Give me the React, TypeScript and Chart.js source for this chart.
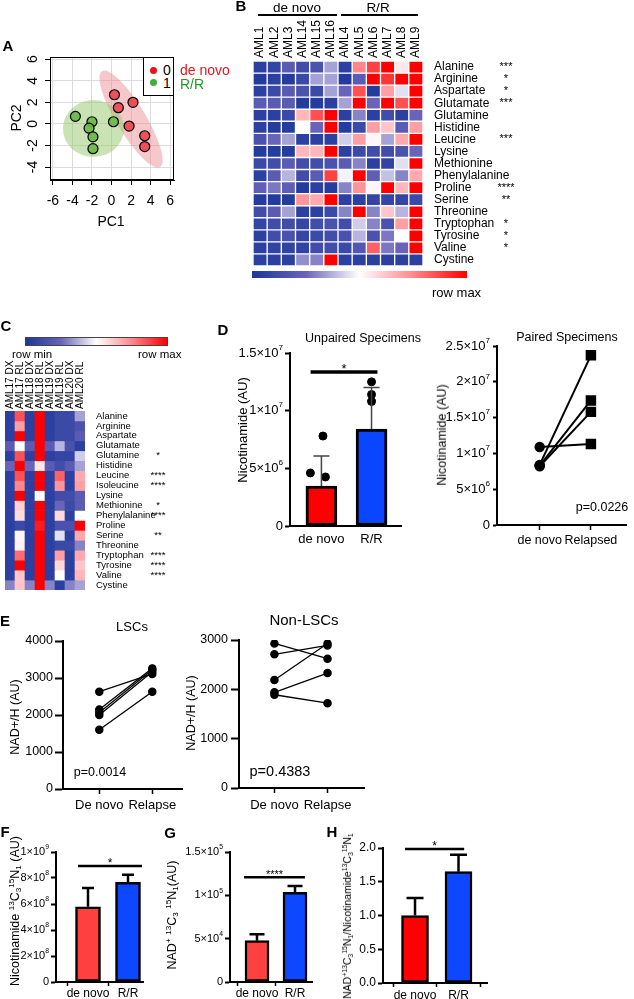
import React, { useEffect, useRef } from "react";
import { Chart, registerables } from "chart.js";

Chart.register(...registerables);
const FONT = "'Liberation Sans', Arial, Helvetica, sans-serif";
Chart.defaults.font.family = FONT;
Chart.defaults.color = "#000";

// ================= DATA =================
// Panel A – PCA
const PCA_X_TICKS = [-6, -4, -2, 0, 2, 4, 6];
const PCA_Y_TICKS = [-4, -2, 0, 2, 4, 6];
const PCA_DENOVO_PC1 = [0.3, 2.2, 0.7, 1.8, 3.4, 3.4];
const PCA_DENOVO_PC2 = [2.7, 2.0, 1.5, -0.2, -1.1, -2.1];
const PCA_RR_PC1 = [-3.7, -2.0, -2.3, -1.9, -1.9, 0.2];
const PCA_RR_PC2 = [0.7, 0.2, -0.4, -1.2, -2.3, 0.2];
// ellipse: centre x, centre y, end of major semi-axis x, y, minor/major ratio
const ELLIPSE_DENOVO = [2.0, 0.45, 4.97, -3.99, 0.26];
const ELLIPSE_RR = [-1.85, -0.43, 1.28, -0.43, 0.93];

// Panel B – heatmap (row-scaled, 0 = row min, 1 = row max)
const B_COLS = ["AML1", "AML2", "AML3", "AML14", "AML15", "AML16", "AML4", "AML5", "AML6", "AML7", "AML8", "AML9"];
const B_ROWS = ["Alanine", "Arginine", "Aspartate", "Glutamate", "Glutamine", "Histidine", "Leucine", "Lysine", "Methionine", "Phenylalanine", "Proline", "Serine", "Threonine", "Tryptophan", "Tyrosine", "Valine", "Cystine"];
const B_STARS = ["***", "*", "*", "***", "", "", "***", "", "", "", "****", "**", "", "*", "*", "*", ""];
const B_VALUES = [
  [0.05, 0.08, 0.2, 0.12, 0.15, 0.35, 0.05, 0.75, 0.88, 1.0, 0.55, 1.0],
  [0.02, 0.05, 0.03, 0.1, 0.35, 0.35, 0.02, 0.2, 1.0, 0.9, 1.0, 1.0],
  [0.05, 0.1, 0.2, 0.15, 0.1, 0.35, 0.25, 0.85, 0.03, 0.7, 0.45, 1.0],
  [0.2, 0.2, 0.2, 0.02, 0.03, 0.05, 0.35, 1.0, 0.25, 1.0, 0.85, 1.0],
  [0.05, 0.05, 0.1, 0.65, 0.85, 1.0, 0.05, 0.3, 0.05, 0.12, 0.05, 0.25],
  [0.05, 0.03, 0.03, 0.5, 0.25, 1.0, 0.03, 0.1, 0.7, 0.62, 0.2, 0.7],
  [0.15, 0.25, 0.35, 0.05, 0.05, 0.05, 0.42, 0.7, 0.52, 0.35, 0.68, 1.0],
  [0.03, 0.03, 0.03, 0.65, 0.65, 1.0, 0.05, 0.1, 0.12, 0.12, 0.15, 0.25],
  [0.1, 0.12, 0.2, 0.12, 0.12, 0.15, 0.2, 0.3, 0.05, 0.07, 0.45, 1.0],
  [0.05, 0.2, 0.38, 0.12, 0.2, 0.88, 0.48, 1.0, 0.22, 0.4, 0.3, 0.68],
  [0.22, 0.28, 0.22, 0.03, 0.05, 0.03, 0.3, 0.72, 0.52, 1.0, 0.65, 1.0],
  [0.03, 0.03, 0.03, 0.72, 0.68, 1.0, 0.05, 0.05, 0.08, 0.08, 0.08, 0.1],
  [0.12, 0.2, 0.35, 0.05, 0.05, 0.1, 0.3, 1.0, 0.3, 0.62, 0.38, 1.0],
  [0.08, 0.12, 0.12, 0.08, 0.12, 0.15, 0.12, 0.42, 0.3, 0.15, 0.7, 1.0],
  [0.05, 0.12, 0.15, 0.08, 0.1, 0.12, 0.15, 0.38, 0.15, 0.28, 0.5, 1.0],
  [0.05, 0.07, 0.07, 0.07, 0.12, 0.12, 0.1, 0.18, 0.82, 0.28, 0.25, 1.0],
  [0.05, 0.05, 0.05, 0.32, 0.3, 1.0, 0.05, 0.05, 0.05, 0.05, 0.05, 0.05],
];

// Panel C – paired heatmap
const C_COLS = ["AML17 DX", "AML17 RL", "AML18 DX", "AML18 RL", "AML19 DX", "AML19 RL", "AML20 DX", "AML20 RL"];
const C_ROWS = ["Alanine", "Arginine", "Aspartate", "Glutamate", "Glutamine", "Histidine", "Leucine", "Isoleucine", "Lysine", "Methionine", "Phenylalanine", "Proline", "Serine", "Threonine", "Tryptophan", "Tyrosine", "Valine", "Cystine"];
const C_STARS = ["", "", "", "", "*", "", "****", "****", "", "*", "****", "", "**", "", "****", "****", "****", ""];
const C_VALUES = [
  [0.05, 0.85, 0.05, 1.0, 0.05, 0.1, 0.1, 0.35],
  [0.05, 0.7, 0.05, 1.0, 0.05, 0.1, 0.1, 0.15],
  [0.05, 1.0, 0.05, 1.0, 0.05, 0.1, 0.1, 0.2],
  [0.2, 0.5, 0.2, 1.0, 0.2, 0.38, 0.15, 0.05],
  [0.05, 0.85, 0.05, 1.0, 0.05, 0.08, 0.08, 0.42],
  [0.25, 1.0, 0.25, 0.55, 0.2, 0.12, 0.2, 0.35],
  [0.05, 0.85, 0.05, 1.0, 0.05, 0.82, 0.05, 0.68],
  [0.05, 0.75, 0.05, 1.0, 0.05, 0.72, 0.05, 0.7],
  [0.05, 1.0, 0.05, 0.5, 0.05, 0.12, 0.12, 0.2],
  [0.05, 0.6, 0.05, 1.0, 0.05, 0.25, 0.1, 0.2],
  [0.05, 0.57, 0.05, 1.0, 0.05, 0.58, 0.05, 0.5],
  [0.05, 0.1, 0.05, 0.95, 0.05, 0.15, 0.15, 1.0],
  [0.05, 0.52, 0.05, 1.0, 0.05, 0.45, 0.05, 0.68],
  [0.05, 0.53, 0.05, 1.0, 0.05, 0.1, 0.1, 0.3],
  [0.05, 0.8, 0.05, 1.0, 0.05, 0.7, 0.05, 0.68],
  [0.05, 1.0, 0.05, 1.0, 0.05, 0.58, 0.05, 0.62],
  [0.05, 0.62, 0.05, 1.0, 0.05, 0.5, 0.05, 0.65],
  [0.3, 0.62, 0.3, 1.0, 0.3, 0.05, 0.3, 0.35],
];

// Panel D – unpaired
const UNPAIRED_GROUPS = ["de novo", "R/R"];
const UNPAIRED_MEANS = [3.47e6, 8.4e6];
const UNPAIRED_SD = [2.6e6, 3.6e6];
const UNPAIRED_DENOVO = [7.8e6, 4.6e6, 4.25e6, 2.17e6, 1.3e6, 0.87e6];
const UNPAIRED_RR = [1.25e7, 1.14e7, 1.08e7, 6.07e6, 5.9e6, 3.8e6];
const UNPAIRED_DENOVO_JITTER = [0.03, -0.22, 0.08, 0.03, -0.03, 0.08];
const UNPAIRED_RR_JITTER = [0, 0, 0, -0.06, 0.06, 0];
const UNPAIRED_TICKS = [0, 5e6, 1e7, 1.5e7];
// Panel D – paired
const PAIRED_GROUPS = ["de novo", "Relapsed"];
const PAIRED_DENOVO = [1.09e7, 8.4e6, 8.3e6, 8.2e6];
const PAIRED_RELAPSED = [1.13e7, 2.37e7, 1.74e7, 1.58e7];
const PAIRED_TICKS = [0, 5e6, 1e7, 1.5e7, 2e7, 2.5e7];

// Panel E
const E_GROUPS = ["De novo", "Relapse"];
const LSC_DENOVO = [2630, 2150, 2070, 2000, 1600];
const LSC_RELAPSE = [3110, 3260, 3220, 3170, 2630];
const LSC_TICKS = [0, 1000, 2000, 3000, 4000];
const NONLSC_DENOVO = [2930, 2710, 2190, 1940, 1890];
const NONLSC_RELAPSE = [2620, 2890, 2930, 2330, 1720];
const NONLSC_TICKS = [0, 1000, 2000, 3000];

// Panels F, G, H
const FGH_GROUPS = ["de novo", "R/R"];
const F_MEANS = [5.79e8, 7.67e8];
const F_SD = [1.44e8, 0.58e8];
const F_TICKS = [0, 2e8, 4e8, 6e8, 8e8, 1e9];
const G_MEANS = [4.77e4, 1.035e5];
const G_SD = [0.73e4, 0.73e4];
const G_TICKS = [0, 5e4, 1e5, 1.5e5];
const H_MEANS = [1.0, 1.65];
const H_SD = [0.26, 0.25];
const H_TICKS = [0, 0.5, 1.0, 1.5, 2.0];

// ================= HELPERS =================
type Pad = { l: number; t: number; r: number; b: number };
type Plot = { l: number; t: number; r: number; b: number };

function cartBox(p: Plot, yW: number, xH: number, pad: Pad) {
  return { x: p.l - yW - pad.l, y: p.t - pad.t, w: p.r - p.l + yW + pad.l + pad.r, h: p.b - p.t + xH + pad.t + pad.b };
}
function heatBox(p: Plot, xH: number, rightW: number, pad: Pad) {
  return { x: p.l - pad.l, y: p.t - xH - pad.t, w: p.r - p.l + pad.l + rightW + pad.r, h: p.b - p.t + xH + pad.t + pad.b };
}

const base = (pad: Pad) => ({
  responsive: false,
  animation: false,
  devicePixelRatio: 1,
  events: [],
  layout: { padding: { left: pad.l, top: pad.t, right: pad.r, bottom: pad.b } },
  plugins: { legend: { display: false }, tooltip: { enabled: false } },
});

function heatColor(v: number) {
  const stops: [number, number[]][] = [
    [0, [28, 55, 155]],
    [0.25, [105, 100, 185]],
    [0.5, [255, 255, 255]],
    [0.75, [255, 135, 140]],
    [1, [255, 0, 0]],
  ];
  for (let i = 1; i < stops.length; i++) {
    if (v <= stops[i][0]) {
      const [p0, c0] = stops[i - 1];
      const [p1, c1] = stops[i];
      const t = (v - p0) / (p1 - p0);
      const c = c0.map((a, k) => Math.round(a + (c1[k] - a) * t));
      return `rgb(${c[0]},${c[1]},${c[2]})`;
    }
  }
  return "rgb(255,0,0)";
}

function fmtSci(v: number) {
  if (v === 0) return "0";
  const e = Math.floor(Math.log10(v) + 1e-9);
  const m = Math.round((v / Math.pow(10, e)) * 100) / 100;
  return `${m}×10^{${e}}`;
}

function parseRich(s: string) {
  const out: { t: string; m: number }[] = [];
  let buf = "";
  let i = 0;
  while (i < s.length) {
    const c = s[i];
    if ((c === "^" || c === "_") && s[i + 1] === "{") {
      if (buf) { out.push({ t: buf, m: 0 }); buf = ""; }
      const j = s.indexOf("}", i);
      out.push({ t: s.slice(i + 2, j), m: c === "^" ? 1 : -1 });
      i = j + 1;
    } else { buf += c; i++; }
  }
  if (buf) out.push({ t: buf, m: 0 });
  return out;
}

function drawRich(ctx: any, s: string, x: number, y: number, size: number, align: string, rot = 0) {
  const parts = parseRich(s);
  const fontOf = (m: number) => `${m ? size * 0.62 : size}px ${FONT}`;
  ctx.save();
  ctx.translate(x, y);
  ctx.rotate(rot);
  ctx.fillStyle = "#000";
  ctx.textBaseline = "middle";
  ctx.textAlign = "left";
  let w = 0;
  for (const p of parts) { ctx.font = fontOf(p.m); w += ctx.measureText(p.t).width; }
  let cx = align === "right" ? -w : align === "center" ? -w / 2 : 0;
  for (const p of parts) {
    ctx.font = fontOf(p.m);
    ctx.fillText(p.t, cx, p.m === 1 ? -size * 0.42 : p.m === -1 ? size * 0.28 : 0);
    cx += ctx.measureText(p.t).width;
  }
  ctx.restore();
}

function yLin(o: any) {
  return {
    type: "linear",
    min: o.min,
    max: o.max,
    afterBuildTicks: (s: any) => { s.ticks = o.ticks.map((v: number) => ({ value: v })); },
    ticks: { display: !o.rich, color: "#000", font: { size: o.size }, padding: o.tickPad ?? 2, callback: o.fmt },
    grid: { display: true, drawOnChartArea: false, drawTicks: true, tickLength: o.tickLen, tickColor: "#000", tickWidth: o.axisW, color: "#000" },
    border: { display: true, color: "#000", width: o.axisW },
    afterFit: (s: any) => { s.width = o.yW; },
  };
}
function xLin(o: any) {
  return {
    type: "linear",
    min: o.min,
    max: o.max,
    offset: false,
    afterBuildTicks: (s: any) => { s.ticks = o.labels.map((_: any, i: number) => ({ value: i })); },
    ticks: { autoSkip: false, minRotation: 0, maxRotation: 0, color: "#000", font: { size: o.size }, padding: o.pad, callback: (v: number) => o.labels[v] ?? "" },
    grid: { display: true, drawOnChartArea: false, drawTicks: o.tickLen > 0, tickLength: o.tickLen, tickColor: "#000", tickWidth: 1.5, color: "#000" },
    border: { display: true, color: "#000", width: o.axisW },
    afterFit: (s: any) => { s.height = o.xH; },
  };
}

function richYTicksPlugin(size: number, gap: number) {
  return {
    id: "richYTicks",
    afterDraw(chart: any) {
      const s = chart.scales.y;
      s.ticks.forEach((t: any) => drawRich(chart.ctx, fmtSci(t.value), s.right - gap, s.getPixelForValue(t.value), size, "right"));
    },
  };
}
function errorBarsPlugin(sds: number[], capHalf: number, lw: number, color: string) {
  return {
    id: "errorBars",
    afterDatasetDraw(chart: any, args: any) {
      if (args.index !== 0) return;
      const ys = chart.scales.y;
      const ctx = chart.ctx;
      const ds = chart.data.datasets[0].data;
      ctx.save();
      ctx.strokeStyle = color;
      ctx.lineWidth = lw;
      chart.getDatasetMeta(0).data.forEach((el: any, i: number) => {
        const yt = ys.getPixelForValue(ds[i].y + sds[i]);
        ctx.beginPath();
        ctx.moveTo(el.x, el.y);
        ctx.lineTo(el.x, yt);
        ctx.moveTo(el.x - capHalf, yt);
        ctx.lineTo(el.x + capHalf, yt);
        ctx.stroke();
      });
      ctx.restore();
    },
  };
}
function sigPlugin(x0: number, x1: number, yv: number, label: string, lw: number, size: number) {
  return {
    id: "sig",
    afterDraw(chart: any) {
      const xs = chart.scales.x, ys = chart.scales.y, ctx = chart.ctx;
      const y = ys.getPixelForValue(yv);
      const a = xs.getPixelForValue(x0), b = xs.getPixelForValue(x1);
      ctx.save();
      ctx.strokeStyle = "#000";
      ctx.lineWidth = lw;
      ctx.beginPath();
      ctx.moveTo(a, y);
      ctx.lineTo(b, y);
      ctx.stroke();
      ctx.font = `${size}px ${FONT}`;
      ctx.fillStyle = "#000";
      ctx.textAlign = "center";
      ctx.textBaseline = "alphabetic";
      ctx.fillText(label, (a + b) / 2, y + 1);
      ctx.restore();
    },
  };
}

// ---------- Panel A config ----------
const A_PLOT = { l: 50, t: 57, r: 174, b: 180 };
const A_PAD = { l: 0, t: 10, r: 10, b: 0 };
const A_BOX = cartBox(A_PLOT, 50, 34, A_PAD);

function makeA() {
  const ellipses = [
    { e: ELLIPSE_DENOVO, fill: "rgba(236,130,140,0.45)" },
    { e: ELLIPSE_RR, fill: "rgba(150,200,105,0.5)" },
  ];
  return {
    type: "scatter",
    data: {
      datasets: [
        { data: PCA_DENOVO_PC1.map((x, i) => ({ x, y: PCA_DENOVO_PC2[i] })), pointRadius: 5, pointBackgroundColor: "rgba(238,70,80,0.92)", pointBorderColor: "#000", pointBorderWidth: 1.2 },
        { data: PCA_RR_PC1.map((x, i) => ({ x, y: PCA_RR_PC2[i] })), pointRadius: 5, pointBackgroundColor: "rgba(104,184,70,0.92)", pointBorderColor: "#000", pointBorderWidth: 1.2 },
      ],
    },
    options: {
      ...base(A_PAD),
      scales: {
        x: {
          type: "linear", min: -6.3, max: 6.4,
          afterBuildTicks: (s: any) => { s.ticks = PCA_X_TICKS.map((v) => ({ value: v })); },
          ticks: { color: "#000", font: { size: 14 }, padding: 8, callback: (v: number) => String(v) },
          grid: { color: "#dcdcdc", tickColor: "#000", tickLength: 5, drawTicks: true },
          border: { display: true, color: "#000", width: 1 },
          afterFit: (s: any) => { s.height = 34; },
        },
        y: {
          type: "linear", min: -5.2, max: 6.2,
          afterBuildTicks: (s: any) => { s.ticks = PCA_Y_TICKS.map((v) => ({ value: v })); },
          ticks: { display: false },
          grid: { color: "#dcdcdc", tickColor: "#000", tickLength: 5, drawTicks: true },
          border: { display: true, color: "#000", width: 1 },
          afterFit: (s: any) => { s.width = 50; },
        },
      },
    },
    plugins: [
      {
        id: "ellipses",
        beforeDatasetsDraw(chart: any) {
          const xs = chart.scales.x, ys = chart.scales.y, ctx = chart.ctx;
          ctx.save();
          for (const el of ellipses) {
            const [cx, cy, ex, ey, ratio] = el.e;
            const px = xs.getPixelForValue(cx), py = ys.getPixelForValue(cy);
            const qx = xs.getPixelForValue(ex), qy = ys.getPixelForValue(ey);
            const a = Math.hypot(qx - px, qy - py);
            const ang = Math.atan2(qy - py, qx - px);
            ctx.fillStyle = el.fill;
            ctx.beginPath();
            ctx.ellipse(px, py, a, a * ratio, ang, 0, Math.PI * 2);
            ctx.fill();
          }
          ctx.restore();
        },
      },
      {
        id: "frameAndY",
        afterDraw(chart: any) {
          const { left, top, right, bottom } = chart.chartArea;
          const ctx = chart.ctx;
          ctx.save();
          ctx.strokeStyle = "#000";
          ctx.lineWidth = 1;
          ctx.strokeRect(left + 0.5, top + 0.5, right - left - 1, bottom - top - 1);
          ctx.restore();
          const ys = chart.scales.y;
          ys.ticks.forEach((t: any) => drawRich(ctx, String(t.value), left - 17, ys.getPixelForValue(t.value), 14, "center", -Math.PI / 2));
        },
      },
    ],
  };
}

// ---------- Heatmaps ----------
function colLabelsPlugin(cols: string[], size: number, gap: number) {
  return {
    id: "colLabels",
    afterDraw(chart: any) {
      const ctx = chart.ctx;
      const s = chart.scales.x;
      ctx.save();
      ctx.font = `${size}px ${FONT}`;
      ctx.fillStyle = "#000";
      ctx.textAlign = "left";
      ctx.textBaseline = "middle";
      cols.forEach((c, i) => {
        ctx.save();
        ctx.translate(s.getPixelForValue(i), chart.chartArea.top - gap);
        ctx.rotate(-Math.PI / 2);
        ctx.fillText(c, 0, 0);
        ctx.restore();
      });
      ctx.restore();
    },
  };
}
function starsPlugin(stars: string[], size: number, offset: number) {
  return {
    id: "stars",
    afterDraw(chart: any) {
      const ctx = chart.ctx;
      const ys = chart.scales.y;
      ctx.save();
      ctx.font = `${size}px ${FONT}`;
      ctx.fillStyle = "#000";
      ctx.textAlign = "center";
      ctx.textBaseline = "middle";
      stars.forEach((s, i) => {
        if (s) ctx.fillText(s, chart.chartArea.right + offset, ys.getPixelForValue(i + 0.5));
      });
      ctx.restore();
    },
  };
}

function heatmapConfig(o: any) {
  return {
    type: "bar",
    data: {
      labels: o.cols,
      datasets: o.rows.map((r: string, i: number) => ({
        label: r,
        data: o.vals[i].map(() => 1),
        backgroundColor: o.vals[i].map(heatColor),
        borderColor: "#fff",
        borderWidth: o.border,
        borderSkipped: false,
        barPercentage: 1,
        categoryPercentage: 1,
      })),
    },
    options: {
      ...base(o.pad),
      scales: {
        x: { position: "top", stacked: true, grid: { display: false }, border: { display: false }, ticks: { display: false }, afterFit: (s: any) => { s.height = o.xH; } },
        y: {
          position: "right", stacked: true, reverse: true, min: 0, max: o.rows.length,
          grid: { display: false }, border: { display: false },
          afterBuildTicks: (s: any) => { s.ticks = o.rows.map((_: any, i: number) => ({ value: i + 0.5 })); },
          ticks: { color: "#000", font: { size: o.rowSize }, padding: 3, autoSkip: false, callback: (v: number) => o.rows[Math.floor(v)] },
          afterFit: (s: any) => { s.width = o.yW; },
        },
      },
    },
    plugins: [colLabelsPlugin(o.cols, o.colSize, o.colGap), starsPlugin(o.stars, o.starSize, o.starOffset)],
  };
}

const B_PLOT = { l: 253, t: 61, r: 423, b: 266 };
const B_PAD = { l: 8, t: 2, r: 2, b: 12 };
const B_BOX = heatBox(B_PLOT, 48, 96, B_PAD);
const makeB = () => heatmapConfig({ rows: B_ROWS, cols: B_COLS, vals: B_VALUES, stars: B_STARS, xH: 48, yW: 96, pad: B_PAD, rowSize: 12, colSize: 12, colGap: 3, starSize: 11, starOffset: 83, border: 1 });

const C_PLOT = { l: 5, t: 411, r: 85, b: 590 };
const C_PAD = { l: 5, t: 2, r: 2, b: 12 };
const C_BOX = heatBox(C_PLOT, 50, 88, C_PAD);
const makeC = () => heatmapConfig({ rows: C_ROWS, cols: C_COLS, vals: C_VALUES, stars: C_STARS, xH: 50, yW: 88, pad: C_PAD, rowSize: 9.5, colSize: 10, colGap: 2, starSize: 9.5, starOffset: 73, border: 0 });

// ---------- Bar panels ----------
function barConfig(o: any) {
  const datasets: any[] = [
    {
      type: "bar",
      data: o.means.map((y: number, i: number) => ({ x: i, y })),
      backgroundColor: o.colors,
      borderColor: "#000",
      borderWidth: o.bw,
      borderSkipped: false,
      barThickness: o.barW,
    },
  ];
  if (o.points) {
    datasets.push({
      type: "scatter",
      data: o.points,
      pointRadius: 4,
      pointBackgroundColor: "#000",
      pointBorderColor: "#000",
    });
  }
  const plugins: any[] = [errorBarsPlugin(o.sds, o.cap, o.ebW, o.ebColor), sigPlugin(o.sig[0], o.sig[1], o.sig[2], o.sig[3], o.sigW, o.sigSize)];
  if (o.rich) plugins.push(richYTicksPlugin(o.tickSize, o.tickLen + 2));
  return {
    type: "scatter",
    data: { datasets },
    options: {
      ...base(o.pad),
      scales: {
        x: xLin({ min: o.xMin, max: o.xMax, labels: o.labels, size: o.xSize, pad: o.xPad, tickLen: o.xTick, axisW: 2, xH: o.xH }),
        y: yLin({ min: 0, max: o.ticks[o.ticks.length - 1], ticks: o.ticks, rich: o.rich, size: o.tickSize, tickPad: 2, tickLen: o.tickLen, axisW: 2, yW: o.yW, fmt: o.fmt }),
      },
    },
    plugins,
  };
}

const DL_PLOT = { l: 290, t: 353, r: 403, b: 526 };
const DL_PAD = { l: 0, t: 14, r: 3, b: 0 };
const DL_BOX = cartBox(DL_PLOT, 60, 28, DL_PAD);
const makeDL = () =>
  barConfig({
    means: UNPAIRED_MEANS, sds: UNPAIRED_SD, colors: ["#ff0000", "#0a46ff"], bw: 3, barW: 31,
    points: [
      ...UNPAIRED_DENOVO.map((y, i) => ({ x: 0 + UNPAIRED_DENOVO_JITTER[i], y })),
      ...UNPAIRED_RR.map((y, i) => ({ x: 1 + UNPAIRED_RR_JITTER[i], y })),
    ],
    cap: 8, ebW: 1.5, ebColor: "#444",
    sig: [-0.216, 1.118, 1.335e7, "*"], sigW: 3.5, sigSize: 13,
    rich: true, tickSize: 13, tickLen: 5, ticks: UNPAIRED_TICKS, yW: 60,
    xMin: -0.627, xMax: 1.588, labels: UNPAIRED_GROUPS, xSize: 13, xPad: 6, xTick: 0, xH: 28, pad: DL_PAD,
  });

const F_PLOT = { l: 56, t: 852, r: 143, b: 982 };
const F_PAD = { l: 0, t: 12, r: 3, b: 0 };
const F_BOX = cartBox(F_PLOT, 50, 22, F_PAD);
const makeF = () =>
  barConfig({
    means: F_MEANS, sds: F_SD, colors: ["#ff4040", "#0d47ff"], bw: 2.5, barW: 25,
    cap: 6, ebW: 2.5, ebColor: "#000",
    sig: [-0.25, 1.35, 8.92e8, "*"], sigW: 2.5, sigSize: 12,
    rich: true, tickSize: 11, tickLen: 5, ticks: F_TICKS, yW: 50,
    xMin: -0.8, xMax: 1.375, labels: FGH_GROUPS, xSize: 12, xPad: 0, xTick: 4, xH: 22, pad: F_PAD,
  });

const G_PLOT = { l: 230, t: 852, r: 312, b: 982 };
const G_PAD = { l: 0, t: 12, r: 3, b: 0 };
const G_BOX = cartBox(G_PLOT, 50, 22, G_PAD);
const makeG = () =>
  barConfig({
    means: G_MEANS, sds: G_SD, colors: ["#ff4040", "#0d47ff"], bw: 2.5, barW: 24,
    cap: 7.5, ebW: 2.5, ebColor: "#000",
    sig: [-0.34, 1.26, 1.21e5, "****"], sigW: 2.5, sigSize: 11,
    rich: true, tickSize: 11, tickLen: 5, ticks: G_TICKS, yW: 50,
    xMin: -0.71, xMax: 1.447, labels: FGH_GROUPS, xSize: 12, xPad: 0, xTick: 4, xH: 22, pad: G_PAD,
  });

const H_PLOT = { l: 383, t: 848, r: 487, b: 983 };
const H_PAD = { l: 0, t: 14, r: 3, b: 0 };
const H_BOX = cartBox(H_PLOT, 40, 22, H_PAD);
const makeH = () =>
  barConfig({
    means: H_MEANS, sds: H_SD, colors: ["#ff0000", "#0d47ff"], bw: 2.5, barW: 27,
    cap: 8.5, ebW: 2.5, ebColor: "#000",
    sig: [-0.23, 1.13, 1.985, "*"], sigW: 2.5, sigSize: 12,
    rich: false, tickSize: 12, tickLen: 5, ticks: H_TICKS, yW: 40, fmt: (v: number) => v.toFixed(1),
    xMin: -0.736, xMax: 1.655, labels: FGH_GROUPS, xSize: 12, xPad: 1, xTick: 4, xH: 22, pad: H_PAD,
  });

// ---------- Paired panels ----------
function pairedConfig(o: any) {
  const plugins: any[] = [];
  if (o.rich) plugins.push(richYTicksPlugin(o.tickSize, o.tickLen + 3));
  return {
    type: "scatter",
    data: {
      datasets: o.before.map((b: number, i: number) => ({
        data: [{ x: 0, y: b }, { x: 1, y: o.after[i] }],
        showLine: true,
        borderColor: "#000",
        borderWidth: o.lw,
        pointBackgroundColor: "#000",
        pointBorderColor: "#000",
        pointRadius: o.pr,
        pointStyle: o.ps,
      })),
    },
    options: {
      ...base(o.pad),
      scales: {
        x: xLin({ min: o.xMin, max: o.xMax, labels: o.labels, size: o.xSize, pad: o.xPad, tickLen: 5, axisW: 2, xH: o.xH }),
        y: yLin({ min: 0, max: o.ticks[o.ticks.length - 1], ticks: o.ticks, rich: o.rich, size: o.tickSize, tickPad: o.tickPad, tickLen: o.tickLen, axisW: 2, yW: o.yW }),
      },
    },
    plugins,
  };
}

const DR_PLOT = { l: 497, t: 346, r: 633, b: 525 };
const DR_PAD = { l: 0, t: 12, r: 1, b: 0 };
const DR_BOX = cartBox(DR_PLOT, 75, 28, DR_PAD);
const makeDR = () =>
  pairedConfig({
    before: PAIRED_DENOVO, after: PAIRED_RELAPSED, lw: 2, pr: [4.2, 6], ps: ["circle", "rect"],
    rich: true, tickSize: 13, tickLen: 4, tickPad: 2, ticks: PAIRED_TICKS, yW: 75,
    xMin: -0.833, xMax: 1.685, labels: PAIRED_GROUPS, xSize: 12.5, xPad: 3.5, xH: 28, pad: DR_PAD,
  });

const EL_PLOT = { l: 63, t: 641, r: 185, b: 789 };
const EL_PAD = { l: 0, t: 12, r: 3, b: 0 };
const EL_BOX = cartBox(EL_PLOT, 50, 36, EL_PAD);
const makeEL = () =>
  pairedConfig({
    before: LSC_DENOVO, after: LSC_RELAPSE, lw: 1.3, pr: 3.6, ps: "circle",
    rich: false, tickSize: 12.5, tickLen: 8, tickPad: 2, ticks: LSC_TICKS, yW: 50,
    xMin: -0.685, xMax: 1.574, labels: E_GROUPS, xSize: 13, xPad: 4, xH: 36, pad: EL_PAD,
  });

const ER_PLOT = { l: 239, t: 640, r: 367, b: 788 };
const ER_PAD = { l: 0, t: 12, r: 3, b: 0 };
const ER_BOX = cartBox(ER_PLOT, 50, 36, ER_PAD);
const makeER = () =>
  pairedConfig({
    before: NONLSC_DENOVO, after: NONLSC_RELAPSE, lw: 1.3, pr: 3.6, ps: "circle",
    rich: false, tickSize: 12.5, tickLen: 8, tickPad: 3, ticks: NONLSC_TICKS, yW: 50,
    xMin: -0.667, xMax: 1.7, labels: E_GROUPS, xSize: 13, xPad: 5, xH: 36, pad: ER_PAD,
  });

// ================= COMPONENTS =================
function ChartCanvas({ box, make }: any) {
  const ref = useRef<HTMLCanvasElement>(null);
  useEffect(() => {
    const chart = new Chart(ref.current as any, make());
    return () => chart.destroy();
  }, []);
  return (
    <div style={{ position: "absolute", left: box.x, top: box.y, width: box.w, height: box.h }}>
      <canvas ref={ref} width={box.w} height={box.h} style={{ display: "block" }} />
    </div>
  );
}

function Txt({ x, y, size = 13, color = "#000", bold = false, rot = 0, align = "center", children }: any) {
  const tx = align === "left" ? "0" : align === "right" ? "-100%" : "-50%";
  return (
    <div
      style={{
        position: "absolute", left: x, top: y,
        transform: `translate(${tx},-50%)` + (rot ? ` rotate(${rot}deg)` : ""),
        fontSize: size, color, fontWeight: bold ? 700 : 400, whiteSpace: "nowrap", lineHeight: 1.15, fontFamily: FONT,
      }}
    >
      {children}
    </div>
  );
}
const Sup = ({ children }: any) => <span style={{ fontSize: "65%", verticalAlign: "0.55em", lineHeight: 0 }}>{children}</span>;
const Sub = ({ children }: any) => <span style={{ fontSize: "65%", verticalAlign: "-0.3em", lineHeight: 0 }}>{children}</span>;
const HLine = ({ x1, x2, y, w = 1.5 }: any) => <div style={{ position: "absolute", left: x1, top: y - w / 2, width: x2 - x1, height: w, background: "#000" }} />;

const GRAD = "linear-gradient(to right, rgb(28,55,155), rgb(105,100,185) 25%, #fff 50%, rgb(255,135,140) 75%, #f00)";

export default function App() {
  return (
    <div style={{ position: "absolute", left: 0, top: 0, width: 634, height: 999, background: "#fff", overflow: "hidden", fontFamily: FONT }}>
      <ChartCanvas box={A_BOX} make={makeA} />
      <ChartCanvas box={B_BOX} make={makeB} />
      <ChartCanvas box={C_BOX} make={makeC} />
      <ChartCanvas box={DL_BOX} make={makeDL} />
      <ChartCanvas box={DR_BOX} make={makeDR} />
      <ChartCanvas box={EL_BOX} make={makeEL} />
      <ChartCanvas box={ER_BOX} make={makeER} />
      <ChartCanvas box={F_BOX} make={makeF} />
      <ChartCanvas box={G_BOX} make={makeG} />
      <ChartCanvas box={H_BOX} make={makeH} />

      {/* Panel letters */}
      <Txt x={8} y={46} size={15} bold>A</Txt>
      <Txt x={241} y={6} size={15} bold>B</Txt>
      <Txt x={6} y={326} size={15} bold>C</Txt>
      <Txt x={223} y={330} size={15} bold>D</Txt>
      <Txt x={5} y={621} size={15} bold>E</Txt>
      <Txt x={5} y={832} size={15} bold>F</Txt>
      <Txt x={170} y={833} size={15} bold>G</Txt>
      <Txt x={332} y={832} size={15} bold>H</Txt>

      {/* A: legend and axis titles */}
      <div style={{ position: "absolute", left: 143, top: 57, width: 31, height: 39, border: "1px solid #000", background: "#fff", boxSizing: "border-box" }} />
      <div style={{ position: "absolute", left: 149.5, top: 66.5, width: 7, height: 7, borderRadius: 4, background: "#e8141c" }} />
      <div style={{ position: "absolute", left: 149.5, top: 79, width: 7, height: 7, borderRadius: 4, background: "#3fae3a" }} />
      <Txt x={163} y={70} size={14} align="left">0</Txt>
      <Txt x={163} y={83} size={14} align="left">1</Txt>
      <Txt x={180} y={70} size={14} align="left" color="#e8141c">de novo</Txt>
      <Txt x={180} y={84} size={14} align="left" color="#1f9a2a">R/R</Txt>
      <Txt x={111} y={221} size={14}>PC1</Txt>
      <Txt x={16} y={118} size={14} rot={-90}>PC2</Txt>

      {/* B header and colour bar */}
      <Txt x={297} y={8} size={13.5}>de novo</Txt>
      <HLine x1={258} x2={337} y={15} />
      <Txt x={378} y={8} size={13.5}>R/R</Txt>
      <HLine x1={341} x2={418} y={15} />
      <div style={{ position: "absolute", left: 252, top: 271, width: 215, height: 7, background: GRAD }} />
      <Txt x={432} y={293} size={13} align="left">row max</Txt>

      {/* C colour bar */}
      <div style={{ position: "absolute", left: 25, top: 337, width: 143, height: 9, background: GRAD, border: "1px solid #444", boxSizing: "border-box" }} />
      <Txt x={12} y={355} size={11.5} align="left">row min</Txt>
      <Txt x={138} y={355} size={11.5} align="left">row max</Txt>

      {/* D */}
      <Txt x={363} y={338} size={12.5}>Unpaired Specimens</Txt>
      <Txt x={243} y={430} size={13} rot={-90}>Nicotinamide (AU)</Txt>
      <Txt x={567} y={337} size={12.5}>Paired Specimens</Txt>
      <Txt x={442} y={435} size={12.5} rot={-90}>Nicotinamide (AU)</Txt>
      <Txt x={602} y={507} size={12.5}>p=0.0226</Txt>

      {/* E */}
      <Txt x={132} y={627} size={13}>LSCs</Txt>
      <Txt x={15} y={717} size={12.5} rot={-90}>NAD+/H (AU)</Txt>
      <Txt x={100} y={772} size={12.5}>p=0.0014</Txt>
      <Txt x={304} y={620} size={15}>Non-LSCs</Txt>
      <Txt x={191} y={713} size={12.5} rot={-90}>NAD+/H (AU)</Txt>
      <Txt x={280} y={771} size={14.5}>p=0.4383</Txt>

      {/* F, G, H axis titles */}
      <Txt x={15} y={911} size={12.5} rot={-90}>
        Nicotinamide <Sup>13</Sup>C<Sub>3</Sub><Sup>15</Sup>N<Sub>1</Sub> (AU)
      </Txt>
      <Txt x={172} y={915} size={12.5} rot={-90}>
        NAD<Sup>+</Sup> <Sup>13</Sup>C<Sub>3</Sub> <Sup>15</Sup>N<Sub>1</Sub>(AU)
      </Txt>
      <Txt x={347} y={916} size={10.5} rot={-90}>
        NAD<Sup>+</Sup><Sup>13</Sup>C<Sub>3</Sub><Sup>15</Sup>N<Sub>1</Sub>/Nicotinamide<Sup>13</Sup>C<Sub>3</Sub><Sup>15</Sup>N<Sub>1</Sub>
      </Txt>
    </div>
  );
}
